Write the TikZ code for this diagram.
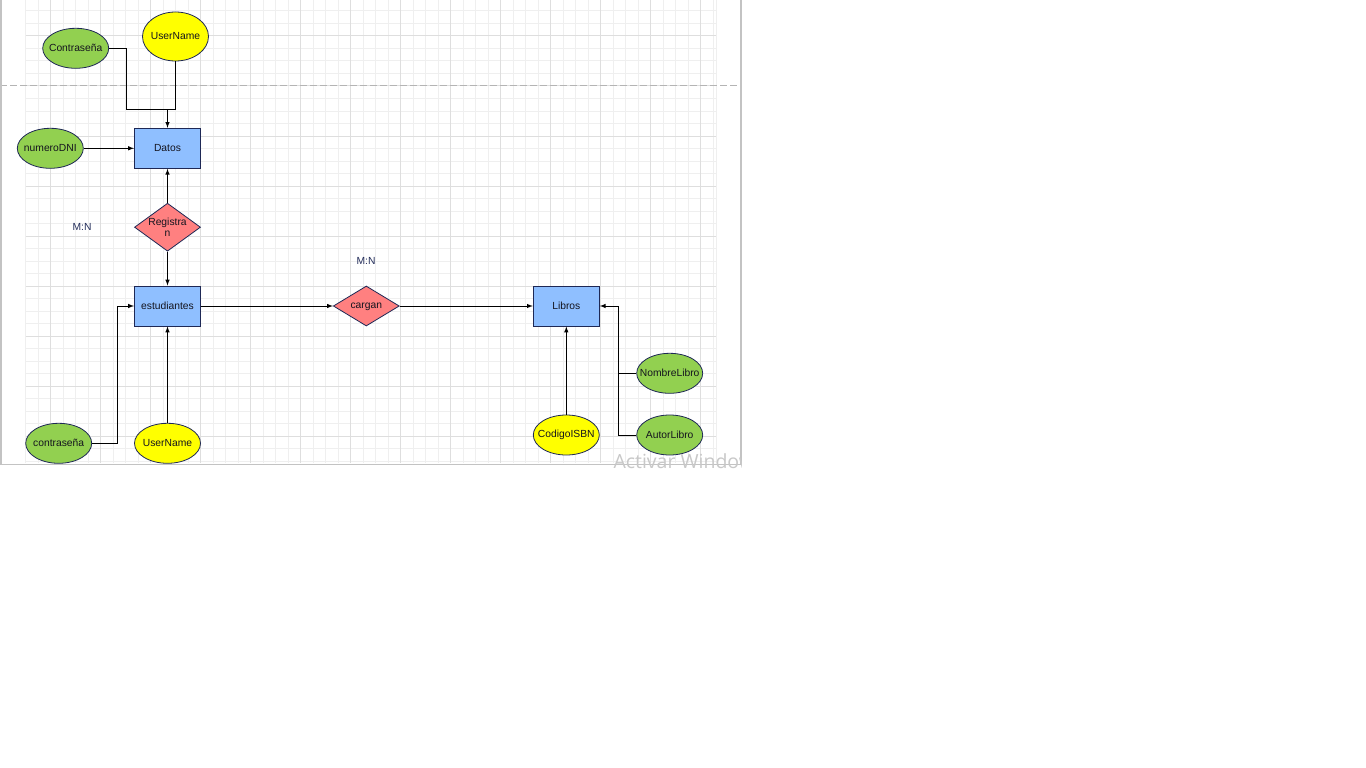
\documentclass[tikz,border=0pt]{standalone}
\usepackage{fontspec}
\setmainfont{Liberation Sans}
\newfontfamily\wmfont{Open Sans}
\usetikzlibrary{shapes.geometric}

\definecolor{azulent}{RGB}{143,191,255}
\definecolor{verdeatr}{RGB}{146,208,80}
\definecolor{amarilloatr}{RGB}{255,255,0}
\definecolor{rojorel}{RGB}{255,128,128}
\definecolor{bordeaz}{RGB}{30,40,85}
\definecolor{rejmenor}{RGB}{239,239,239}
\definecolor{rejmayor}{RGB}{222,222,222}
\definecolor{marco}{RGB}{195,195,195}
\definecolor{salto}{RGB}{180,180,180}
\definecolor{textofig}{RGB}{20,20,30}
\definecolor{mncol}{RGB}{35,45,90}
\definecolor{wmgris}{RGB}{200,200,200}

\tikzset{
  entidad/.style={rectangle, draw=bordeaz, fill=azulent, line width=1pt,
    minimum width=66pt, minimum height=40pt, inner sep=0pt},
  atrverde/.style={ellipse, draw=bordeaz, fill=verdeatr, line width=0.8pt,
    minimum width=66pt, minimum height=40pt, inner sep=-12pt},
  atramar/.style={ellipse, draw=bordeaz, fill=amarilloatr, line width=0.8pt,
    minimum width=66pt, minimum height=40pt, inner sep=-12pt},
  relacion/.style={diamond, draw=bordeaz, fill=rojorel, line width=0.8pt,
    minimum width=66pt, minimum height=48pt, inner sep=-12pt, align=center},
}

\begin{document}
\begin{tikzpicture}[x=1pt, y=-1pt, >=latex, line width=1pt,
    font=\fontsize{10.3}{11}\selectfont, text=textofig]
  \fill[white] (0,0) rectangle (1366,768);
  \useasboundingbox (0,0) rectangle (1366,768);

  % rejilla
  \foreach \gx in {0,...,55}
    \draw[rejmenor] (25.7+12.5*\gx,0) -- (25.7+12.5*\gx,463);
  \foreach \gy in {0,...,36}
    \draw[rejmenor] (25.7,11+12.5*\gy) -- (716,11+12.5*\gy);
  \foreach \gx in {0,...,13}
    \draw[rejmayor] (50.7+50*\gx,0) -- (50.7+50*\gx,463);
  \foreach \gy in {0,...,8}
    \draw[rejmayor] (25.7,36+50*\gy) -- (716,36+50*\gy);
  \draw[rejmenor] (716,0) -- (716,463);

  % salto de pagina y marco
  \draw[salto, dash pattern=on 7pt off 3pt] (0,86) -- (741,86);
  \draw[marco, line width=1.5pt] (1,0) -- (1,464.5) -- (741,464.5);
  \draw[marco, line width=1.5pt] (741,0) -- (741,464.5);

  % entidades
  \node[entidad] (datos) at (167.5,148.3) {Datos};
  \node[entidad] (estudiantes) at (167.5,306) {estudiantes};
  \node[entidad] (libros) at (566.3,306) {Libros};

  % relaciones
  \node[relacion] (registran) at (167.5,227.2) {Registra\\n};
  \node[relacion, minimum height=40pt, text depth=0pt] (cargan) at (366.3,306) {cargan};
  \node[text=mncol] (mnReg) at (82,227) {M:N};
  \node[text=mncol] (mnCar) at (366,261) {M:N};

  % atributos
  \node[atrverde] (contraDatos) at (75.7,48.3) {Contraseña};
  \node[atramar, minimum height=49pt] (userDatos) at (175.5,36.5) {UserName};
  \node[atrverde] (numDNI) at (50.3,148.3) {numeroDNI};
  \node[atrverde] (contraEst) at (58.7,443.3) {contraseña};
  \node[atramar] (userEst) at (167.5,443.3) {UserName};
  \node[atramar] (isbn) at (566.3,435) {CodigoISBN};
  \node[atrverde] (nombreLib) at (669.7,373.3) {NombreLibro};
  \node[atrverde] (autorLib) at (669.7,435) {AutorLibro};

  % conectores
  \coordinate (juntaDatos) at (167.5,109);
  \draw (contraDatos.east) -- ++(17,0) |- (juntaDatos);
  \draw (userDatos.south) |- (juntaDatos);
  \draw[->] (juntaDatos) -- (datos.north);
  \draw[->] (numDNI) -- (datos);
  \draw[->] (registran) -- (datos);
  \draw[->] (registran) -- (estudiantes);
  \draw[->] (estudiantes) -- (cargan);
  \draw[->] (cargan) -- (libros);
  \draw[->] (contraEst.east) -- ++(25,0) |- (estudiantes.west);
  \draw[->] (userEst) -- (estudiantes);
  \draw[->] (isbn) -- (libros);
  \coordinate (juntaLib) at (618.3,306);
  \draw[->] (nombreLib.west) -| (juntaLib) -- (libros.east);
  \draw (autorLib.west) -| (juntaLib);

  % marca de agua
  \begin{scope}
    \clip (0,0) rectangle (741,768);
    \node[anchor=base west, inner sep=0pt, text=wmgris,
      font=\wmfont\fontsize{19.5}{21}\selectfont] (marcaAgua) at (613,468) {Activar Windows};
  \end{scope}
\end{tikzpicture}
\end{document}
